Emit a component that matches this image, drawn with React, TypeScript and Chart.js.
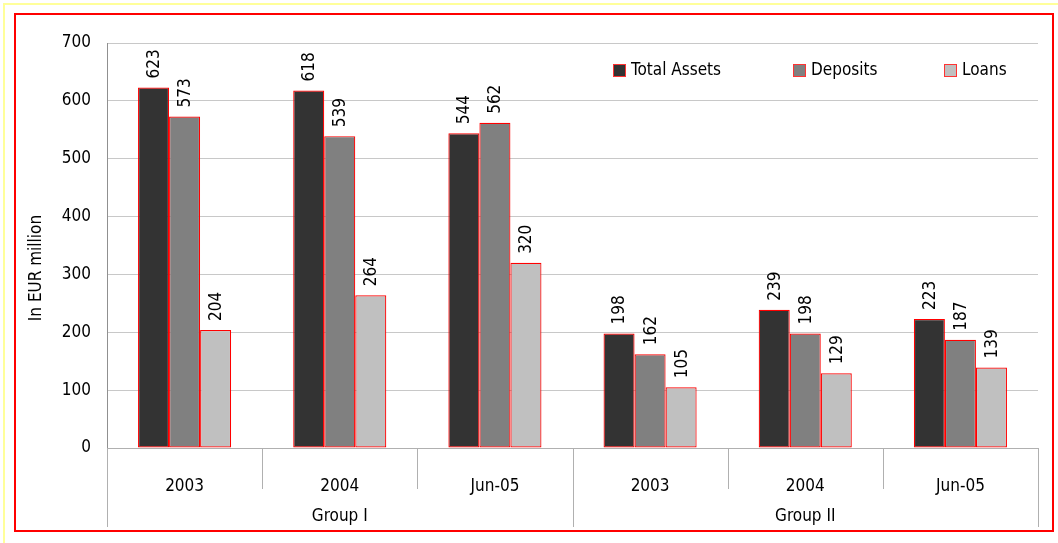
import React, { useEffect, useRef } from "react";
import { Chart, registerables } from "chart.js";

Chart.register(...registerables);

const categories = ["2003", "2004", "Jun-05", "2003", "2004", "Jun-05"];
const groups = ["Group I", "Group II"];
const groupSpans = [3, 3];
const totalAssets = [623, 618, 544, 198, 239, 223];
const deposits = [573, 539, 562, 162, 198, 187];
const loans = [204, 264, 320, 105, 129, 139];
const seriesNames = ["Total Assets", "Deposits", "Loans"];
const seriesColors = ["#333333", "#808080", "#c0c0c0"];
const yTicks = [0, 100, 200, 300, 400, 500, 600, 700];
const yTitle = "In EUR million";

const FONT = "'DejaVu Sans Condensed', 'DejaVu Sans', sans-serif";
const FS = 17;

const decorPlugin = {
  id: "decor",
  beforeDraw(chart: any) {
    const ctx = chart.ctx;
    ctx.save();
    ctx.fillStyle = "#ffffff";
    ctx.fillRect(0, 0, chart.width, chart.height);
    ctx.strokeStyle = "#ffff99";
    ctx.lineWidth = 2;
    ctx.strokeRect(4, 4, chart.width + 10, chart.height + 10);
    ctx.strokeStyle = "#ff0000";
    ctx.lineWidth = 2;
    ctx.strokeRect(15, 14, 1038, 517);
    ctx.restore();
  },
  afterDraw(chart: any) {
    const ctx = chart.ctx;
    const xs = chart.scales.x;
    const area = chart.chartArea;
    ctx.save();
    // separators
    const half = (xs.getPixelForValue(1) - xs.getPixelForValue(0)) / 2;
    const boundaries: number[] = [];
    for (let i = 0; i < categories.length; i++) boundaries.push(xs.getPixelForValue(i) - half);
    boundaries.push(xs.getPixelForValue(categories.length - 1) + half);
    const groupBounds = new Set<number>();
    let acc = 0;
    groupBounds.add(0);
    groupSpans.forEach((s) => { acc += s; groupBounds.add(acc); });
    ctx.strokeStyle = "#b0b0b0";
    ctx.lineWidth = 1;
    boundaries.forEach((bx, i) => {
      const x = Math.round(bx) + 0.5;
      ctx.beginPath();
      ctx.moveTo(x, area.bottom);
      ctx.lineTo(x, groupBounds.has(i) ? 527 : 489);
      ctx.stroke();
    });
    // group labels
    ctx.fillStyle = "#000000";
    ctx.font = `${FS}px ${FONT}`;
    ctx.textAlign = "center";
    ctx.textBaseline = "middle";
    let start = 0;
    groups.forEach((g, gi) => {
      const end = start + groupSpans[gi];
      const cx = (boundaries[start] + boundaries[end]) / 2;
      ctx.fillText(g, cx, 517);
      start = end;
    });
    // y title
    ctx.save();
    ctx.translate(37, 268);
    ctx.rotate(-Math.PI / 2);
    ctx.fillText(yTitle, 0, 0);
    ctx.restore();
    // data labels
    chart.data.datasets.forEach((ds: any, di: number) => {
      const meta = chart.getDatasetMeta(di);
      meta.data.forEach((el: any, i: number) => {
        ctx.save();
        ctx.translate(el.x + 1, el.y - 9);
        ctx.rotate(-Math.PI / 2);
        ctx.textAlign = "left";
        ctx.textBaseline = "middle";
        ctx.fillText(String(ds.data[i]), 0, 0);
        ctx.restore();
      });
    });
    // legend
    const legendX = [613, 793, 944];
    chart.data.datasets.forEach((ds: any, di: number) => {
      const lx = legendX[di];
      ctx.fillStyle = ds.backgroundColor;
      ctx.fillRect(lx, 64, 12, 12);
      ctx.strokeStyle = "#ff3333";
      ctx.lineWidth = 1;
      ctx.strokeRect(lx + 0.5, 64.5, 12, 12);
      ctx.fillStyle = "#000000";
      ctx.textAlign = "left";
      ctx.textBaseline = "middle";
      ctx.fillText(ds.label, lx + 18, 71);
    });
    ctx.restore();
  },
};

export default function App() {
  const ref = useRef<HTMLCanvasElement | null>(null);
  useEffect(() => {
    if (!ref.current) return;
    const series = [totalAssets, deposits, loans];
    const chart = new Chart(ref.current, {
      type: "bar",
      data: {
        labels: categories,
        datasets: series.map((d, i) => ({
          label: seriesNames[i],
          data: d,
          backgroundColor: seriesColors[i],
          borderColor: "#ff0000",
          borderWidth: 1.2,
          borderSkipped: false,
          categoryPercentage: 0.6,
          barPercentage: 1.0,
        })),
      },
      options: {
        animation: false,
        responsive: false,
        devicePixelRatio: 1,
        layout: { padding: { top: 43, right: 20, bottom: 0, left: 0 } },
        plugins: { legend: { display: false }, tooltip: { enabled: false }, title: { display: false } },
        scales: {
          x: {
            grid: { display: false },
            border: { display: true, color: "#b0b0b0", width: 1 },
            ticks: { color: "#000", font: { family: FONT, size: FS }, padding: 20, maxRotation: 0, autoSkip: false },
            afterFit: (s: any) => { s.height = 95; },
          },
          y: {
            min: 0,
            max: 700,
            afterBuildTicks: (s: any) => { s.ticks = yTicks.map((v) => ({ value: v })); },
            grid: { color: "#c8c8c8", drawTicks: false },
            border: { display: true, color: "#909090", width: 1 },
            ticks: { color: "#000", font: { family: FONT, size: FS }, padding: 16 },
            afterFit: (s: any) => { s.width = 107; },
          },
        },
      },
      plugins: [decorPlugin],
    });
    return () => chart.destroy();
  }, []);
  return (
    <div style={{ position: "absolute", left: 0, top: 0, width: 1058, height: 543 }}>
      <canvas ref={ref} width={1058} height={543} />
    </div>
  );
}
